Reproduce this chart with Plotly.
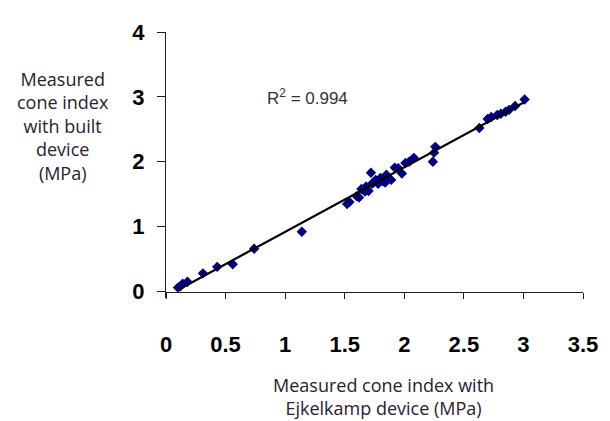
import numpy as np
import plotly.graph_objects as go

# Measured cone index with Ejkelkamp device (MPa)
x_ejk = [0.10, 0.12, 0.14, 0.18, 0.31, 0.43, 0.56, 0.74, 1.14, 1.52, 1.54, 1.60,
         1.62, 1.64, 1.67, 1.68, 1.70, 1.72, 1.73, 1.74, 1.76, 1.78, 1.80, 1.82,
         1.84, 1.85, 1.87, 1.89, 1.92, 1.95, 1.98, 2.01, 2.04, 2.08, 2.24, 2.25,
         2.26, 2.63, 2.70, 2.73, 2.78, 2.81, 2.85, 2.88, 2.93, 3.01]
# Measured cone index with built device (MPa)
y_built = [0.06, 0.08, 0.12, 0.15, 0.28, 0.38, 0.42, 0.66, 0.92, 1.35, 1.38, 1.47,
           1.45, 1.58, 1.54, 1.62, 1.55, 1.83, 1.66, 1.68, 1.72, 1.66, 1.75, 1.70,
           1.68, 1.80, 1.74, 1.72, 1.91, 1.90, 1.82, 1.98, 2.00, 2.06, 2.00, 2.14,
           2.23, 2.52, 2.66, 2.69, 2.72, 2.74, 2.77, 2.80, 2.86, 2.96]

x_ticks = [0, 0.5, 1, 1.5, 2, 2.5, 3, 3.5]
x_tick_labels = ["0", "0.5", "1", "1.5", "2", "2.5", "3", "3.5"]
y_ticks = [0, 1, 2, 3, 4]
y_tick_labels = ["0", "1", "2", "3", "4"]
r2_label = "R<sup>2</sup> = 0.994"

slope, intercept = np.polyfit(x_ejk, y_built, 1)
x_fit = [min(x_ejk), max(x_ejk)]
y_fit = [slope * v + intercept for v in x_fit]

fig = go.Figure()
fig.add_trace(go.Scatter(x=x_ejk, y=y_built, mode="markers",
                         marker=dict(symbol="diamond", size=8, color="#000080",
                                     line=dict(width=0)),
                         showlegend=False))
fig.add_trace(go.Scatter(x=x_fit, y=y_fit, mode="lines",
                         line=dict(color="black", width=2.2),
                         showlegend=False))

tick_font = dict(family="Liberation Sans, Arial", size=22, color="black")
fig.update_layout(
    width=610, height=421,
    margin=dict(l=166, r=24, t=32, b=122.5),
    paper_bgcolor="white", plot_bgcolor="white",
    xaxis=dict(range=[0, 3.5], tickvals=x_ticks, ticktext=["<b>%s</b>" % t for t in x_tick_labels],
               showgrid=False, zeroline=False, showline=True, linecolor="#222", linewidth=1.3,
               ticks="outside", ticklen=6, tickcolor="#222", tickwidth=1.3,
               tickfont=tick_font, ticklabelstandoff=27,
               anchor="free", position=0.1 / 4.1),
    yaxis=dict(range=[-0.1, 4], tickvals=y_ticks, ticktext=["<b>%s</b>" % t for t in y_tick_labels],
               showgrid=False, zeroline=False, showline=True, linecolor="#222", linewidth=1.3,
               ticks="outside", ticklen=8, tickcolor="#222", tickwidth=1.3,
               tickfont=tick_font, ticklabelstandoff=8),
)

title_font = dict(family="Open Sans", size=18, color="#2a2030")
fig.add_annotation(x=0.83, y=3.0, xref="x", yref="y", text=r2_label, showarrow=False,
                   xanchor="left", yanchor="middle",
                   font=dict(family="Liberation Sans, Arial", size=17, color="#333"))
fig.add_annotation(x=(385 - 166) / 420, y=(298.5 - 397) / 266.5, xref="paper", yref="paper",
                   text="Measured cone index with<br>Ejkelkamp device (MPa)",
                   showarrow=False, xanchor="center", yanchor="middle", align="center",
                   font=title_font)
fig.add_annotation(x=(62 - 166) / 420, y=(298.5 - 126) / 266.5, xref="paper", yref="paper",
                   text="Measured<br>cone index<br>with built<br>device<br>(MPa)",
                   showarrow=False, xanchor="center", yanchor="middle", align="center",
                   font=title_font)

fig.write_html("out.html")
